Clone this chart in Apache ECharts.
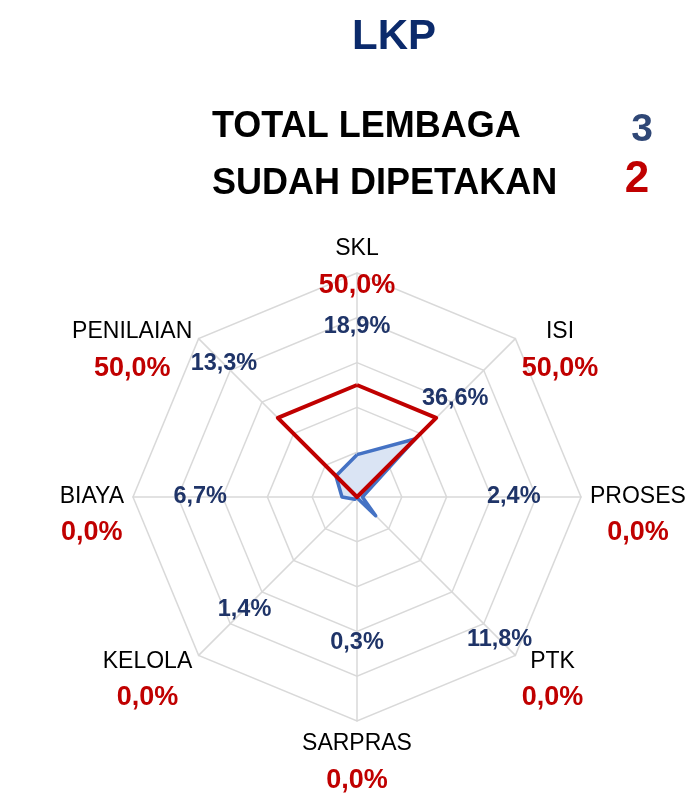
<!DOCTYPE html>
<html>
<head>
<meta charset="utf-8">
<script src="https://cdn.jsdelivr.net/npm/echarts@6/dist/echarts.min.js"></script>
<style>
  html, body { margin: 0; padding: 0; background: #fff; }
  #radar_lkp { width: 687px; height: 805px; }
</style>
</head>
<body>
<div id="radar_lkp"></div>
<script>
// axes, clockwise from the top
var categories = ['SKL', 'ISI', 'PROSES', 'PTK', 'SARPRAS', 'KELOLA', 'BIAYA', 'PENILAIAN'];
// red: sudah dipetakan (%)
var mappedValues = [50.0, 50.0, 0.0, 0.0, 0.0, 0.0, 0.0, 50.0];
// blue: (%)
var blueValues = [18.9, 36.6, 2.4, 11.8, 0.3, 1.4, 6.7, 13.3];
var totalLembaga = 3;
var sudahDipetakan = 2;

// layout only: where the blue value labels sit along each axis (0-100 scale)
var blueLabelRing = [76, 62, 70, 90, 65, 71, 70, 84];

var FONT = "'Liberation Sans', Arial, sans-serif";

function pct(v){
	return v.toFixed(1).replace('.', ',') + '%';
}

// echarts lays indicators out counter-clockwise, so reverse everything after the first
var order = [0];
for (var i = categories.length - 1; i > 0; i--) order.push(i);
function reorder(arr){
	return order.map(function(i){ return arr[i]; });
}

var radar_lkp = echarts.init(document.getElementById('radar_lkp'));
option = {
	backgroundColor: '#ffffff',
	animation: false,
	graphic: [
		{ type: 'text', x: 394, y: 37, style: { text: 'LKP', font: "bold 42px " + FONT, fill: '#0b2a6b', align: 'center', verticalAlign: 'middle' } },
		{ type: 'text', x: 212, y: 127, style: { text: 'TOTAL LEMBAGA', font: "bold 36px " + FONT, fill: '#000000', align: 'left', verticalAlign: 'middle' } },
		{ type: 'text', x: 642, y: 130, style: { text: String(totalLembaga), font: "bold 39px " + FONT, fill: '#2f4776', align: 'center', verticalAlign: 'middle' } },
		{ type: 'text', x: 212, y: 184, style: { text: 'SUDAH DIPETAKAN', font: "bold 36px " + FONT, fill: '#000000', align: 'left', verticalAlign: 'middle' } },
		{ type: 'text', x: 637, y: 180, style: { text: String(sudahDipetakan), font: "bold 44px " + FONT, fill: '#c00000', align: 'center', verticalAlign: 'middle' } }
	],
	radar: {
		center: [357, 497],
		radius: 224,
		startAngle: 90,
		splitNumber: 5,
		shape: 'polygon',
		indicator: reorder(categories).map(function(c){ return { name: c, min: 0, max: 100 }; }),
		axisNameGap: 9,
		axisName: {
			color: '#000000',
			fontFamily: FONT,
			formatter: function(name){
				var idx = categories.indexOf(name);
				return '{n|' + name + '}\n{v|' + pct(mappedValues[idx]) + '}';
			},
			rich: {
				n: { fontSize: 23, fontFamily: FONT, color: '#000000', lineHeight: 28, align: 'center' },
				v: { fontSize: 27, fontFamily: FONT, fontWeight: 'bold', color: '#c00000', lineHeight: 1, height: 45, verticalAlign: 'top', align: 'center' }
			}
		},
		splitLine: { lineStyle: { color: '#d9d9d9', width: 1.5 } },
		splitArea: { show: false },
		axisLine: { lineStyle: { color: '#d9d9d9', width: 1.5 } },
		axisTick: { show: false },
		axisLabel: { show: false }
	},
	series: [
		{
			// fill only, so the outline below is not half hidden by it
			name: 'Persentase area',
			type: 'radar',
			symbol: 'none',
			silent: true,
			z: 2,
			lineStyle: { width: 0, opacity: 0 },
			areaStyle: { color: '#dae4f4', opacity: 1 },
			data: [{ value: reorder(blueValues) }]
		},
		{
			name: 'Persentase',
			type: 'radar',
			symbol: 'none',
			z: 3,
			lineStyle: { color: '#4472c4', width: 3.5 },
			data: [{ value: reorder(blueValues) }]
		},
		{
			name: 'Sudah Dipetakan',
			type: 'radar',
			symbol: 'none',
			z: 4,
			lineStyle: { color: '#c00000', width: 4 },
			data: [{ value: reorder(mappedValues) }]
		},
		{
			name: 'label',
			type: 'radar',
			symbol: 'circle',
			symbolSize: 0,
			silent: true,
			z: 5,
			lineStyle: { opacity: 0, width: 0 },
			itemStyle: { color: 'transparent' },
			label: {
				show: true,
				position: 'inside',
				fontFamily: FONT,
				fontSize: 23.5,
				fontWeight: 'bold',
				color: '#1f3468',
				formatter: function(p){
					return pct(blueValues[order[p.dimensionIndex]]);
				}
			},
			data: [{ value: reorder(blueLabelRing) }]
		}
	]
};
radar_lkp.setOption(option);
</script>
</body>
</html>
